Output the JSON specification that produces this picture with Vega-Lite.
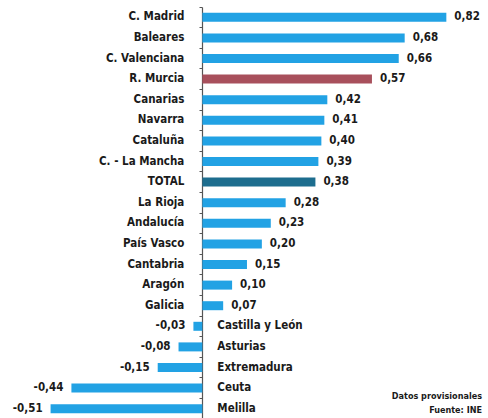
{
  "$schema": "https://vega.github.io/schema/vega-lite/v6.json",
  "width": 488,
  "height": 412,
  "autosize": "none",
  "padding": {"top": 7, "left": 0, "right": 0, "bottom": 0},
  "background": "white",
  "config": {"view": {"stroke": null}, "font": "DejaVu Sans Condensed"},
  "data": {"values": [
    {"name": "C. Madrid", "value": 0.82, "label": "0,82", "type": "region"},
    {"name": "Baleares", "value": 0.68, "label": "0,68", "type": "region"},
    {"name": "C. Valenciana", "value": 0.66, "label": "0,66", "type": "region"},
    {"name": "R. Murcia", "value": 0.57, "label": "0,57", "type": "murcia"},
    {"name": "Canarias", "value": 0.42, "label": "0,42", "type": "region"},
    {"name": "Navarra", "value": 0.41, "label": "0,41", "type": "region"},
    {"name": "Cataluña", "value": 0.40, "label": "0,40", "type": "region"},
    {"name": "C. - La Mancha", "value": 0.39, "label": "0,39", "type": "region"},
    {"name": "TOTAL", "value": 0.38, "label": "0,38", "type": "total"},
    {"name": "La Rioja", "value": 0.28, "label": "0,28", "type": "region"},
    {"name": "Andalucía", "value": 0.23, "label": "0,23", "type": "region"},
    {"name": "País Vasco", "value": 0.20, "label": "0,20", "type": "region"},
    {"name": "Cantabria", "value": 0.15, "label": "0,15", "type": "region"},
    {"name": "Aragón", "value": 0.10, "label": "0,10", "type": "region"},
    {"name": "Galicia", "value": 0.07, "label": "0,07", "type": "region"},
    {"name": "Castilla y León", "value": -0.03, "label": "-0,03", "type": "region"},
    {"name": "Asturias", "value": -0.08, "label": "-0,08", "type": "region"},
    {"name": "Extremadura", "value": -0.15, "label": "-0,15", "type": "region"},
    {"name": "Ceuta", "value": -0.44, "label": "-0,44", "type": "region"},
    {"name": "Melilla", "value": -0.51, "label": "-0,51", "type": "region"}
  ]},
  "encoding": {
    "y": {"field": "name", "type": "nominal", "sort": null,
      "scale": {"paddingInner": 0, "paddingOuter": 0},
      "axis": {"title": null, "labels": false, "offset": -202, "domainColor": "#555", "tickColor": "#555", "tickSize": 3, "bandPosition": 0, "domainWidth": 1.2}}
  },
  "layer": [
    {
      "mark": {"type": "bar", "size": 9},
      "encoding": {
        "x": {"field": "value", "type": "quantitative", "scale": {"domain": [-0.68, 0.96], "nice": false, "zero": false}, "axis": null},
        "color": {"field": "type", "type": "nominal", "legend": null,
          "scale": {"domain": ["region", "murcia", "total"], "range": ["#22a2e4", "#a8505c", "#1d6d8e"]}}
      }
    },
    {
      "transform": [{"filter": "datum.value >= 0"}],
      "mark": {"type": "text", "align": "right", "baseline": "middle", "dx": -18, "fontSize": 11.5, "fontWeight": "bold", "color": "#1a1a1a"},
      "encoding": {"x": {"datum": 0, "type": "quantitative"}, "text": {"field": "name"}}
    },
    {
      "transform": [{"filter": "datum.value < 0"}],
      "mark": {"type": "text", "align": "left", "baseline": "middle", "dx": 15, "fontSize": 11.5, "fontWeight": "bold", "color": "#1a1a1a"},
      "encoding": {"x": {"datum": 0, "type": "quantitative"}, "text": {"field": "name"}}
    },
    {
      "transform": [{"filter": "datum.value >= 0"}],
      "mark": {"type": "text", "align": "left", "baseline": "middle", "dx": 8, "fontSize": 11.5, "fontWeight": "bold", "color": "#1a1a1a"},
      "encoding": {"x": {"field": "value", "type": "quantitative"}, "text": {"field": "label"}}
    },
    {
      "transform": [{"filter": "datum.value < 0"}],
      "mark": {"type": "text", "align": "right", "baseline": "middle", "dx": -8, "fontSize": 11.5, "fontWeight": "bold", "color": "#1a1a1a"},
      "encoding": {"x": {"field": "value", "type": "quantitative"}, "text": {"field": "label"}}
    },
    {
      "data": {"values": [{"name": "Ceuta", "note": "Datos provisionales"}]},
      "mark": {"type": "text", "align": "right", "baseline": "middle", "dx": -6, "dy": 8, "fontSize": 9, "fontWeight": "bold", "color": "#1a1a1a"},
      "encoding": {"x": {"datum": 0.96, "type": "quantitative"}, "text": {"field": "note"}}
    },
    {
      "data": {"values": [{"name": "Melilla", "note": "Fuente: INE"}]},
      "mark": {"type": "text", "align": "right", "baseline": "middle", "dx": -6, "dy": 1, "fontSize": 9, "fontWeight": "bold", "color": "#1a1a1a"},
      "encoding": {"x": {"datum": 0.96, "type": "quantitative"}, "text": {"field": "note"}}
    }
  ]
}
